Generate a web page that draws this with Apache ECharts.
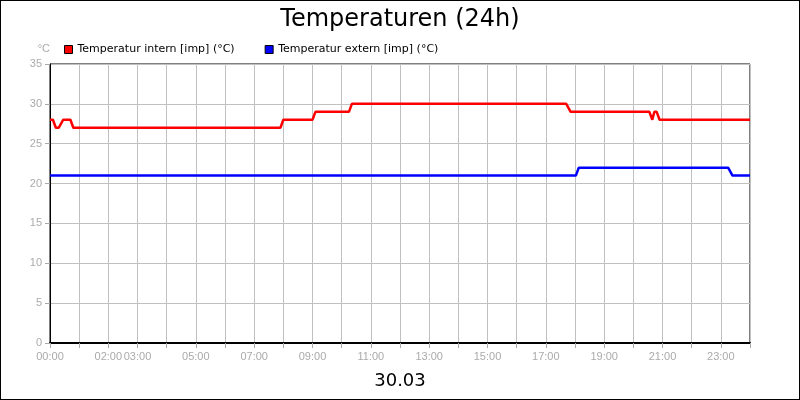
<!DOCTYPE html>
<html><head><meta charset="utf-8">
<script src="https://cdn.jsdelivr.net/npm/echarts@6/dist/echarts.min.js"></script>
<style>html,body{margin:0;padding:0;background:#fff}#c{width:798px;height:398px;border:1px solid #000}</style>
</head><body><div id="c"></div>
<script>
const internHours = [0,0.1,0.2,0.3,0.45,0.7,0.8,7.9,8.0,9.0,9.1,10.25,10.35,17.7,17.85,20.55,20.65,20.72,20.8,20.9,24];
const internTemps = [28,28,27,27,28,28,27,27,28,28,29,29,30,30,29,29,28,29,29,28,28];
const externHours = [0,18.03,18.13,23.25,23.4,24];
const externTemps = [21,21,22,22,21,21];
const tickHours = [0,2,3,5,7,9,11,13,15,17,19,21,23];
const fmt = h => (h<10?'0':'')+h+':00';
const chart = echarts.init(document.getElementById('c'));
chart.setOption({
  animation:false,
  title:[{text:'Temperaturen (24h)',left:'center',top:2,textStyle:{fontSize:24,fontWeight:'normal',color:'#000',fontFamily:'DejaVu Sans'}},
         {text:'30.03',left:'center',top:366,textStyle:{fontSize:18,fontWeight:'normal',color:'#000',fontFamily:'DejaVu Sans'}}],
  legend:{left:58,top:38,itemWidth:8,itemHeight:8,itemGap:30,icon:'rect',textStyle:{fontSize:11,color:'#000',fontFamily:'DejaVu Sans'},
    data:[{name:'Temperatur intern [imp] (°C)',itemStyle:{borderColor:'#000',borderWidth:1}},{name:'Temperatur extern [imp] (°C)',itemStyle:{borderColor:'#000',borderWidth:1}}]},
  grid:{left:49,right:49,top:63,bottom:56,show:true,borderColor:'#000',borderWidth:1},
  xAxis:{type:'value',min:0,max:24,interval:1,
    axisLine:{lineStyle:{color:'#000',width:2}},axisTick:{show:true,lineStyle:{color:'#aaa'}},
    splitLine:{lineStyle:{color:'#c0c0c0'}},
    axisLabel:{color:'#aaa',fontSize:11,formatter:v=>tickHours.includes(v)?fmt(v):''}},
  yAxis:{type:'value',min:0,max:35,interval:5,name:'°C',nameGap:10,nameTextStyle:{color:'#aaa',fontSize:11,align:'right'},
    axisLine:{show:true,lineStyle:{color:'#000'}},axisTick:{show:true,lineStyle:{color:'#aaa'}},
    splitLine:{lineStyle:{color:'#c0c0c0'}},axisLabel:{color:'#aaa',fontSize:11}},
  series:[
    {name:'Temperatur intern [imp] (°C)',type:'line',showSymbol:false,color:'#ff0000',lineStyle:{width:2.5},
     data:internHours.map((h,i)=>[h,internTemps[i]])},
    {name:'Temperatur extern [imp] (°C)',type:'line',showSymbol:false,color:'#0000ff',lineStyle:{width:2.5},
     data:externHours.map((h,i)=>[h,externTemps[i]])}
  ]
});
</script></body></html>
